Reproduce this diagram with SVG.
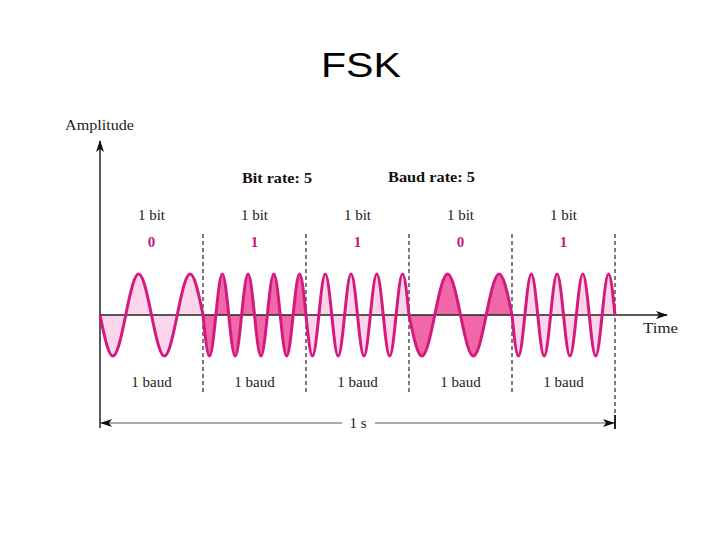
<svg xmlns="http://www.w3.org/2000/svg" width="720" height="540" viewBox="0 0 720 540">
<style>
.t{font-family:"Liberation Serif","Times New Roman",serif;font-size:15px;fill:#222}
.b{font-weight:bold;fill:#111}
.d{font-family:"Liberation Serif","Times New Roman",serif;font-size:15px;font-weight:bold;fill:#c8187c}
.lt{fill:#fdd5ea;stroke:none}
.dk{fill:#f068a8;stroke:none}
.w{fill:none;stroke:#d41a7e;stroke-width:3;stroke-linejoin:round}
.ax{stroke:#222;stroke-width:1.5;fill:none}
.dash{stroke:#333;stroke-width:1.3;stroke-dasharray:4 3;fill:none}
</style>
<defs>
<path id="lo" d="M0,0 C10.93,54.67 14.82,54.67 25.75,0 C36.68,-54.67 40.57,-54.67 51.5,0 C62.43,54.67 66.32,54.67 77.25,0 C88.18,-54.67 92.07,-54.67 103,0"/>
<path id="hi" d="M0,0 C5.46,54.67 7.41,54.67 12.875,0 C18.34,-54.67 20.29,-54.67 25.75,0 C31.21,54.67 33.16,54.67 38.625,0 C44.09,-54.67 46.04,-54.67 51.5,0 C56.96,54.67 58.91,54.67 64.375,0 C69.84,-54.67 71.79,-54.67 77.25,0 C82.71,54.67 84.66,54.67 90.125,0 C95.59,-54.67 97.54,-54.67 103,0"/>
<marker id="ar" viewBox="0 0 12 8" refX="11" refY="4" markerWidth="12" markerHeight="8" markerUnits="userSpaceOnUse" orient="auto-start-reverse">
<path d="M0,0 L12,4 L0,8 L3,4 Z" fill="#111"/>
</marker>
</defs>
<text x="361" y="77" font-family="Liberation Sans,Arial,sans-serif" font-size="35" text-anchor="middle" textLength="80" lengthAdjust="spacingAndGlyphs" fill="#000">FSK</text>
<g id="fills">
<use href="#lo" class="lt" transform="translate(100,315)"/>
<use href="#hi" class="dk" transform="translate(203,315)"/>
<use href="#hi" class="lt" transform="translate(306,315)"/>
<use href="#lo" class="dk" transform="translate(409,315)"/>
<use href="#hi" class="lt" transform="translate(512,315)"/>
</g>
<g id="connectors">
<line class="ax" x1="100" y1="428" x2="100" y2="141" marker-end="url(#ar)"/>
<line class="ax" x1="100" y1="315" x2="667" y2="315" marker-end="url(#ar)"/>
<line class="dash" x1="203" y1="234" x2="203" y2="395"/>
<line class="dash" x1="306" y1="234" x2="306" y2="395"/>
<line class="dash" x1="409" y1="234" x2="409" y2="395"/>
<line class="dash" x1="512" y1="234" x2="512" y2="395"/>
<line class="dash" x1="615" y1="234" x2="615" y2="415" stroke-width="2"/>
<line stroke="#222" stroke-width="2" x1="615" y1="415" x2="615" y2="429"/>
<line stroke="#555" stroke-width="1" x1="101" y1="423" x2="342" y2="423" marker-start="url(#ar)"/>
<line stroke="#555" stroke-width="1" x1="375" y1="423" x2="614" y2="423" marker-end="url(#ar)"/>
</g>
<g id="wave">
<use href="#lo" class="w" transform="translate(100,315)"/>
<use href="#hi" class="w" transform="translate(203,315)"/>
<use href="#hi" class="w" transform="translate(306,315)"/>
<use href="#lo" class="w" transform="translate(409,315)"/>
<use href="#hi" class="w" transform="translate(512,315)"/>
</g>
<g id="labels">
<text class="t" x="65" y="130" textLength="69" lengthAdjust="spacingAndGlyphs">Amplitude</text>
<text class="t" x="643" y="333" textLength="35" lengthAdjust="spacingAndGlyphs">Time</text>
<text class="t b" x="242" y="183" textLength="70" lengthAdjust="spacingAndGlyphs">Bit rate: 5</text>
<text class="t b" x="388" y="182" textLength="87" lengthAdjust="spacingAndGlyphs">Baud rate: 5</text>
<g text-anchor="middle">
<text class="t" x="151.5" y="220">1 bit</text>
<text class="t" x="254.5" y="220">1 bit</text>
<text class="t" x="357.5" y="220">1 bit</text>
<text class="t" x="460.5" y="220">1 bit</text>
<text class="t" x="563.5" y="220">1 bit</text>
<text class="d" x="151.5" y="247">0</text>
<text class="d" x="254.5" y="247">1</text>
<text class="d" x="357.5" y="247">1</text>
<text class="d" x="460.5" y="247">0</text>
<text class="d" x="563.5" y="247">1</text>
<text class="t" x="151.5" y="387">1 baud</text>
<text class="t" x="254.5" y="387">1 baud</text>
<text class="t" x="357.5" y="387">1 baud</text>
<text class="t" x="460.5" y="387">1 baud</text>
<text class="t" x="563.5" y="387">1 baud</text>
<text class="t" x="358" y="428">1 s</text>
</g>
</g>
</svg>
